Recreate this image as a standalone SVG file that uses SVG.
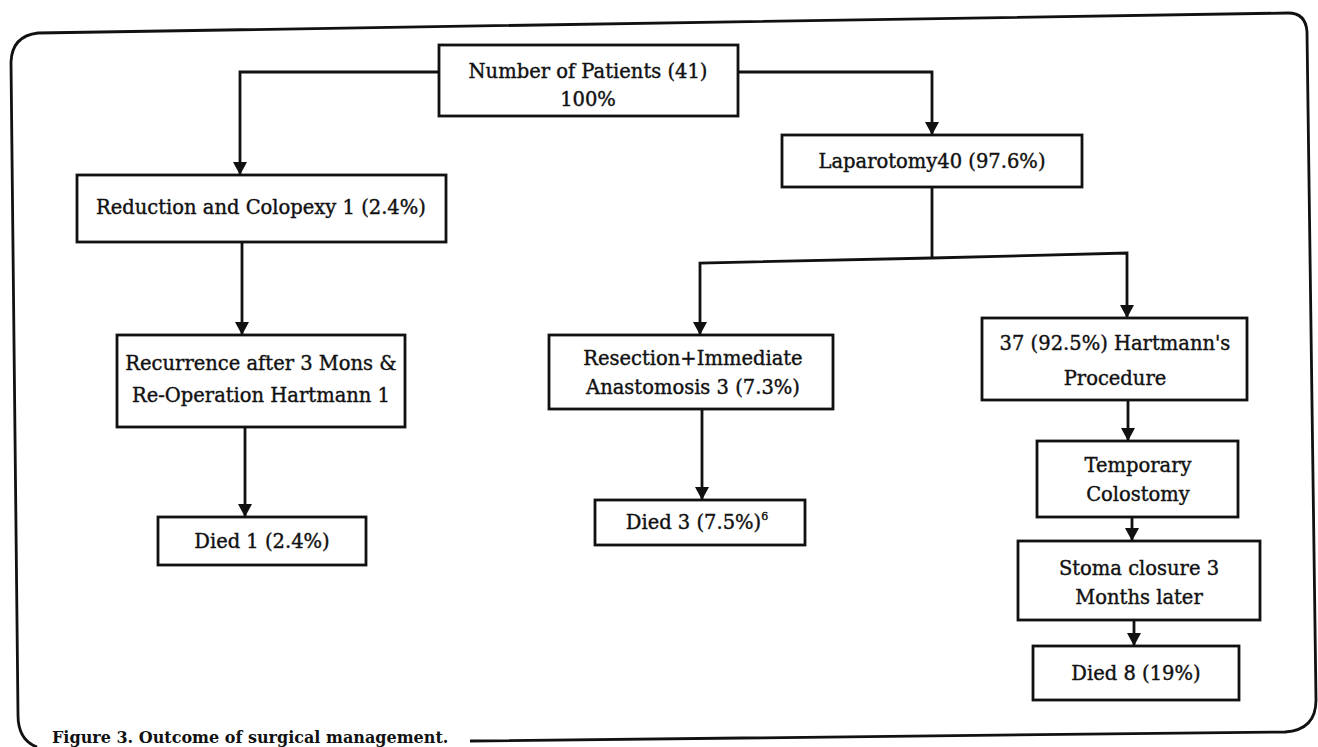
<svg xmlns="http://www.w3.org/2000/svg" width="1318" height="747" viewBox="0 0 1318 747">
<defs>
<marker id="arr" markerUnits="userSpaceOnUse" markerWidth="14" markerHeight="14" refX="13" refY="7" orient="auto">
<path d="M0,0 L13,7 L0,14 z" fill="#111"/>
</marker>
<style>
.box{fill:#fff;stroke:#111;stroke-width:2.8}
.t{font-family:"DejaVu Serif","Liberation Serif",serif;font-size:19.5px;fill:#111;text-anchor:middle;stroke:#111;stroke-width:0.4}
.c{fill:none;stroke:#111;stroke-width:2.8;marker-end:url(#arr)}
.cap{font-family:"DejaVu Serif","Liberation Serif",serif;font-size:16px;font-weight:bold;fill:#111}
</style>
</defs>
<rect width="1318" height="747" fill="#fff"/>
<path d="M37,747 Q18,740 18,715 L11,62 Q12,36 38,33 L1288,13 Q1306,13 1307,32 L1316,700 Q1316,730 1285,732 L470,741" fill="none" stroke="#111" stroke-width="2.8"/>
<g id="connectors">
<path class="c" d="M439,72 L240,72 L240,175"/>
<path class="c" d="M738,72 L932,72 L932,135"/>
<path d="M932,187 L932,258" fill="none" stroke="#111" stroke-width="2.8"/>
<path class="c" d="M932,258 L700,263 L700,335"/>
<path class="c" d="M932,258 L1127,253 L1127,318"/>
<path class="c" d="M242,242 L242,335"/>
<path class="c" d="M245,427 L245,517"/>
<path class="c" d="M702,409 L702,500"/>
<path class="c" d="M1128,400 L1128,441"/>
<path class="c" d="M1132,517 L1132,541"/>
<path class="c" d="M1134,620 L1134,646"/>
</g>
<g id="n-patients"><rect class="box" x="439" y="45" width="299" height="71"/><text class="t" x="588" y="78">Number of Patients (41)</text><text class="t" x="588" y="106">100%</text></g>
<g id="n-laparotomy"><rect class="box" x="782" y="135" width="300" height="52"/><text class="t" x="932" y="168">Laparotomy40 (97.6%)</text></g>
<g id="n-reduction"><rect class="box" x="77" y="175" width="369" height="67"/><text class="t" x="261" y="214">Reduction and Colopexy 1 (2.4%)</text></g>
<g id="n-recurrence"><rect class="box" x="117" y="335" width="288" height="92"/><text class="t" x="261" y="370">Recurrence after 3 Mons &amp;</text><text class="t" x="261" y="402">Re-Operation Hartmann 1</text></g>
<g id="n-died1"><rect class="box" x="158" y="517" width="208" height="48"/><text class="t" x="262" y="548">Died 1 (2.4%)</text></g>
<g id="n-resection"><rect class="box" x="549" y="335" width="284" height="74"/><text class="t" x="693" y="365">Resection+Immediate</text><text class="t" x="693" y="394">Anastomosis 3 (7.3%)</text></g>
<g id="n-died3"><rect class="box" x="595" y="500" width="210" height="45"/><text class="t" x="697" y="529">Died 3 (7.5%)<tspan font-size="11" dy="-9">6</tspan></text></g>
<g id="n-hartmann"><rect class="box" x="982" y="318" width="265" height="82"/><text class="t" x="1115" y="350">37 (92.5%) Hartmann's</text><text class="t" x="1115" y="385">Procedure</text></g>
<g id="n-temporary"><rect class="box" x="1037" y="441" width="201" height="76"/><text class="t" x="1138" y="472">Temporary</text><text class="t" x="1138" y="501">Colostomy</text></g>
<g id="n-stoma"><rect class="box" x="1018" y="541" width="242" height="79"/><text class="t" x="1139" y="575">Stoma closure 3</text><text class="t" x="1139" y="604">Months later</text></g>
<g id="n-died8"><rect class="box" x="1033" y="646" width="206" height="54"/><text class="t" x="1136" y="680">Died 8 (19%)</text></g>
<text class="cap" x="52" y="743">Figure 3.  Outcome of surgical management.</text>
</svg>
